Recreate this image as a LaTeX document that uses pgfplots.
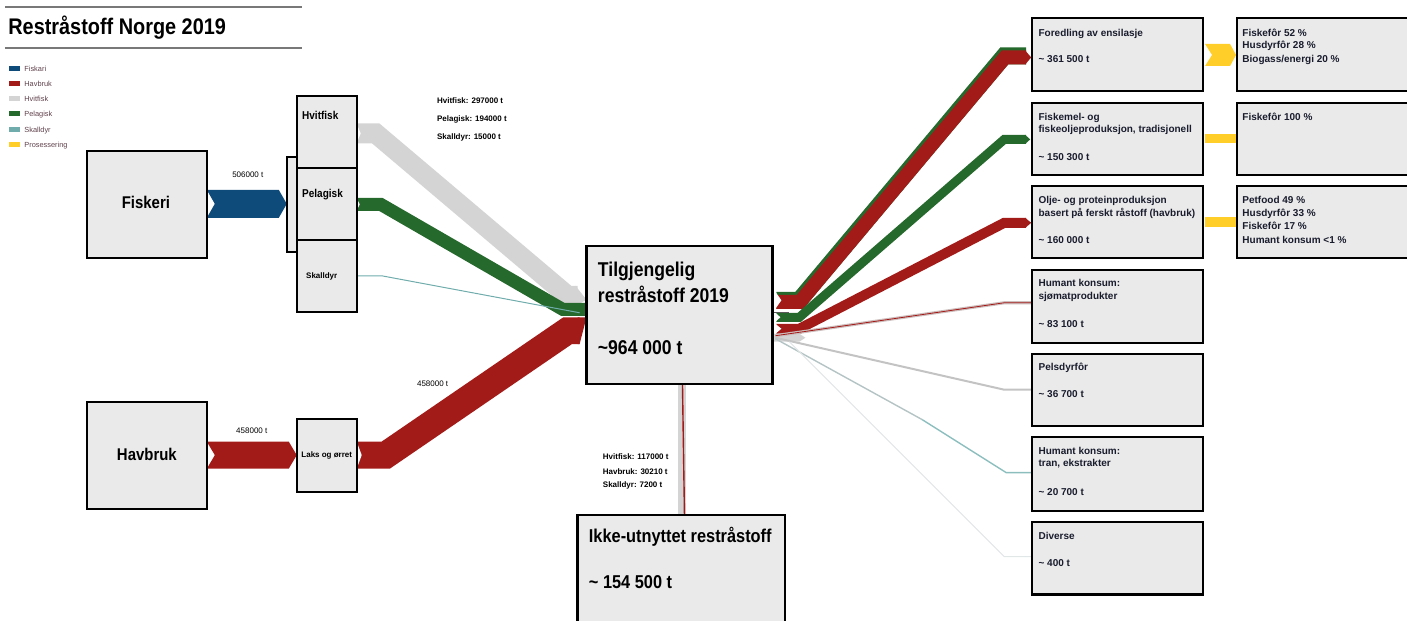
\documentclass[border=0pt]{standalone}
\usepackage{fontspec}
\setmainfont{Liberation Sans}
\newfontfamily\narrowfont{Liberation Sans}[FakeStretch=0.88]
\usepackage{pgfplots}
\pgfplotsset{compat=1.18}
\definecolor{boxgray}{RGB}{234,234,234}
\definecolor{fblue}{RGB}{14,74,122}
\definecolor{hred}{RGB}{163,27,24}
\definecolor{hgray}{RGB}{212,212,212}
\definecolor{pgreen}{RGB}{37,105,44}
\definecolor{steal}{RGB}{112,172,172}
\definecolor{pyellow}{RGB}{255,206,40}
\definecolor{txtdark}{RGB}{25,28,45}
\definecolor{legtxt}{RGB}{95,65,75}
\definecolor{rulegray}{RGB}{120,120,120}
\newcommand{\boxat}[4]{\addplot[fill=boxgray, draw=black, line width=1.1pt] coordinates {(#1,#2) (#3,#2) (#3,#4) (#1,#4)} -- cycle;}
\newcommand{\legsq}[2]{\addplot[fill=#2, draw=none] coordinates {(9,#1-2.5) (20,#1-2.5) (20,#1+2.5) (9,#1+2.5)} -- cycle;}
\newcommand{\bigf}[1]{\narrowfont\bfseries\fontsize{#1}{#1}\selectfont}
\newcommand{\smf}{\bfseries\fontsize{5}{6}\selectfont}
\newcommand{\tinyf}{\bfseries\fontsize{4}{5}\selectfont}
\begin{document}
\begin{tikzpicture}
\begin{axis}[width=704pt, height=310.5pt, scale only axis,
  xmin=0, xmax=1408, ymin=0, ymax=621, y dir=reverse,
  hide axis, clip=false,
  band/.style={line join=miter, line cap=butt}]
\addplot[draw=none] coordinates {(0,0) (1408,621)};
% title
\addplot[rulegray, line width=0.9pt] coordinates {(5,7) (302,7)};
\addplot[rulegray, line width=0.9pt] coordinates {(5,48) (302,48)};
\node[anchor=base west, inner sep=0, font=\bigf{11.3}] at (8,35) {Restråstoff Norge 2019};
% legend
\legsq{68.5}{fblue}
\legsq{83.5}{hred}
\legsq{99}{hgray}
\legsq{114}{pgreen}
\legsq{129.5}{steal}
\legsq{145}{pyellow}
\begin{scope}[every node/.style={anchor=base west, inner sep=0, text=legtxt, font=\fontsize{3.7}{4}\selectfont}]
\node at (24,71.2) {Fiskari};
\node at (24,86.2) {Havbruk};
\node at (24,101.7) {Hvitfisk};
\node at (24,116.7) {Pelagisk};
\node at (24,132.2) {Skalldyr};
\node at (24,147.7) {Prosessering};
\end{scope}
% ---- flows left
\addplot[fill=fblue, draw=none] coordinates {(207,190) (279,190) (287,204) (279,218) (207,218) (215,204)} -- cycle;
\addplot[fill=hred, draw=none] coordinates {(207,442) (289,442) (297,455.5) (289,469) (207,469) (215,455.5)} -- cycle;
\addplot[band, hgray, line width=10pt] coordinates {(357,133.5) (376,133.5) (568,296) (578,296)};
\addplot[fill=hgray, draw=none] coordinates {(576,286) (587,300) (576,306)} -- cycle;
\addplot[band, pgreen, line width=6.5pt] coordinates {(357,204.5) (381,204.5) (563,309.5) (587,309.5)};
\addplot[steal, line width=0.5pt] coordinates {(357,276) (382,276) (580,313)};
\addplot[band, hred, line width=13.5pt] coordinates {(357,455.5) (386,455.5) (568,331) (580,331)};
\addplot[fill=hred, draw=none] coordinates {(578,317.5) (587,317.5) (580,344.5) (578,344.5)} -- cycle;
\addplot[fill=white, draw=none] coordinates {(357,124) (361,133.5) (357,143)} -- cycle;
\addplot[fill=white, draw=none] coordinates {(357,198.5) (360,204.5) (357,210.5)} -- cycle;
\addplot[fill=white, draw=none] coordinates {(357,442) (362,455.5) (357,469)} -- cycle;
% bottom flow
\addplot[fill=hgray, draw=none] coordinates {(679,384) (687,384) (687,515) (679,515)} -- cycle;
\addplot[hred, line width=0.7pt] coordinates {(683,384) (685,515)};
% ---- flows right
\addplot[fill=hgray, draw=none] coordinates {(774,334) (800,334) (806,338) (800,342) (774,342)} -- cycle;
\addplot[band, pgreen, line width=8.5pt] coordinates {(777,300.5) (800,300.5) (1005,56) (1027,56)};
\addplot[band, hred, line width=7pt] coordinates {(777,302) (800.7,302) (1005.7,57.5) (1027,57.5)};
\addplot[fill=hred, draw=none] coordinates {(1026,50.5) (1032,57.5) (1026,64.5)} -- cycle;
\addplot[band, pgreen, line width=4.5pt] coordinates {(777,317.5) (800,317.5) (1005,139.5) (1027,139.5)};
\addplot[fill=pgreen, draw=none] coordinates {(1026,135) (1031,139.5) (1026,144)} -- cycle;
\addplot[band, hred, line width=5pt] coordinates {(777,329) (800,329) (1005,223) (1027,223)};
\addplot[fill=hred, draw=none] coordinates {(1026,218) (1032,223) (1026,228)} -- cycle;
\addplot[fill=white, draw=none] coordinates {(776,292) (782,300.5) (776,309)} -- cycle;
\addplot[fill=white, draw=none] coordinates {(776,313) (781,317.5) (776,322)} -- cycle;
\addplot[fill=white, draw=none] coordinates {(776,324) (782,329) (776,334)} -- cycle;
\addplot[color={rgb,255:red,205;green,190;blue,190}, line width=1.6pt] coordinates {(776,336) (1005,303) (1033,303)};
\addplot[hred, line width=0.4pt] coordinates {(776,336) (1005,303) (1033,303)};
\addplot[color={rgb,255:red,195;green,195;blue,195}, line width=1pt] coordinates {(776,338) (1005,390) (1033,390)};
\addplot[color={rgb,255:red,180;green,195;blue,195}, line width=0.7pt] coordinates {(776,339) (923,420)};
\addplot[color={rgb,255:red,140;green,190;blue,190}, line width=0.7pt] coordinates {(923,420) (1007,473) (1033,473)};
\addplot[color={rgb,255:red,225;green,230;blue,230}, line width=0.5pt] coordinates {(790,342) (1005,557) (1033,557)};
\addplot[color={rgb,255:red,90;green,90;blue,90}, line width=0.6pt] coordinates {(772,313) (790,313)};
% yellow connectors
\addplot[fill=pyellow, draw=none] coordinates {(1206,44) (1231,44) (1237,55) (1231,66) (1206,66) (1213,55)} -- cycle;
\addplot[fill=pyellow, draw=none] coordinates {(1206,134.5) (1237,134.5) (1237,143) (1206,143)} -- cycle;
\addplot[fill=pyellow, draw=none] coordinates {(1206,217) (1237,217) (1237,227) (1206,227)} -- cycle;
% ---- boxes
\boxat{87}{151}{207}{258}
\boxat{87}{402}{207}{509}
\boxat{287}{157}{297}{252}
\boxat{297}{96}{357}{168}
\boxat{297}{168}{357}{240}
\boxat{297}{240}{357}{312}
\boxat{297}{419}{357}{492}
\boxat{587}{246}{773}{384}
\addplot[fill=boxgray, draw=none] coordinates {(578,515) (786,515) (786,621) (578,621)} -- cycle;
\addplot[black, line width=1.1pt] coordinates {(578,621) (578,515) (786,515) (786,621)};
\boxat{1033}{18}{1204}{91}
\boxat{1033}{103}{1204}{175}
\boxat{1033}{186}{1204}{258}
\boxat{1033}{270}{1204}{343}
\boxat{1033}{354}{1204}{426}
\boxat{1033}{437}{1204}{511}
\boxat{1033}{522}{1204}{595}
\addplot[fill=boxgray, draw=none] coordinates {(1238,18) (1408,18) (1408,91) (1238,91)} -- cycle;
\addplot[black, line width=1.1pt] coordinates {(1408,18) (1238,18) (1238,91) (1408,91)};
\addplot[fill=boxgray, draw=none] coordinates {(1238,103) (1408,103) (1408,175) (1238,175)} -- cycle;
\addplot[black, line width=1.1pt] coordinates {(1408,103) (1238,103) (1238,175) (1408,175)};
\addplot[fill=boxgray, draw=none] coordinates {(1238,186) (1408,186) (1408,258) (1238,258)} -- cycle;
\addplot[black, line width=1.1pt] coordinates {(1408,186) (1238,186) (1238,258) (1408,258)};
% ---- texts
\begin{scope}[every node/.style={inner sep=0}]
\node[anchor=base, font=\bigf{8.5}] at (146,209) {Fiskeri};
\node[anchor=base, font=\bigf{8.5}] at (147,461) {Havbruk};
\node[anchor=base west, font=\bigf{5.7}] at (302,120) {Hvitfisk};
\node[anchor=base west, font=\bigf{5.7}] at (302,198) {Pelagisk};
\node[anchor=base, font=\bfseries\fontsize{4}{5}\selectfont] at (322,279) {Skalldyr};
\node[anchor=base, font=\bfseries\fontsize{4}{5}\selectfont] at (327,458) {Laks og ørret};
\node[anchor=base, font=\fontsize{4}{5}\selectfont] at (248,178) {506000 t};
\node[anchor=base, font=\fontsize{4}{5}\selectfont] at (252,434) {458000 t};
\node[anchor=base, font=\fontsize{4}{5}\selectfont] at (433,387) {458000 t};
\node[anchor=base west, font=\tinyf] at (437,104) {Hvitfisk: 297000 t};
\node[anchor=base west, font=\tinyf] at (437,122) {Pelagisk: 194000 t};
\node[anchor=base west, font=\tinyf] at (437,140) {Skalldyr: 15000 t};
\node[anchor=base west, font=\bigf{10}] at (598,277) {Tilgjengelig};
\node[anchor=base west, font=\bigf{10}] at (598,303) {restråstoff 2019};
\node[anchor=base west, font=\bigf{10}] at (598,355) {\textasciitilde964 000 t};
\node[anchor=base west, font=\tinyf] at (603,460) {Hvitfisk: 117000 t};
\node[anchor=base west, font=\tinyf] at (603,475) {Havbruk: 30210 t};
\node[anchor=base west, font=\tinyf] at (603,488) {Skalldyr: 7200 t};
\node[anchor=base west, font=\bigf{9.3}] at (589,543) {Ikke-utnyttet restråstoff};
\node[anchor=base west, font=\bigf{9.3}] at (589,589) {\textasciitilde{} 154 500 t};
\end{scope}
\begin{scope}[every node/.style={inner sep=0, anchor=base west, text=txtdark, font=\smf}]
\node at (1039,36.5) {Foredling av ensilasje};
\node at (1039,62.5) {\textasciitilde{} 361 500 t};
\node at (1039,120.5) {Fiskemel- og};
\node at (1039,133) {fiskeoljeproduksjon, tradisjonell};
\node at (1039,160.5) {\textasciitilde{} 150 300 t};
\node at (1039,204) {Olje- og proteinproduksjon};
\node at (1039,217) {basert på ferskt råstoff (havbruk)};
\node at (1039,244) {\textasciitilde{} 160 000 t};
\node at (1039,287) {Humant konsum:};
\node at (1039,300) {sjømatprodukter};
\node at (1039,328) {\textasciitilde{} 83 100 t};
\node at (1039,371) {Pelsdyrfôr};
\node at (1039,398) {\textasciitilde{} 36 700 t};
\node at (1039,454.5) {Humant konsum:};
\node at (1039,467) {tran, ekstrakter};
\node at (1039,495.5) {\textasciitilde{} 20 700 t};
\node at (1039,539.5) {Diverse};
\node at (1039,566.5) {\textasciitilde{} 400 t};
\node at (1243,36.5) {Fiskefôr 52 \%};
\node at (1243,49) {Husdyrfôr 28 \%};
\node at (1243,62.5) {Biogass/energi 20 \%};
\node at (1243,120.5) {Fiskefôr 100 \%};
\node at (1243,204) {Petfood 49 \%};
\node at (1243,216.5) {Husdyrfôr 33 \%};
\node at (1243,229.5) {Fiskefôr 17 \%};
\node at (1243,243.5) {Humant konsum <1 \%};
\end{scope}
\end{axis}
\end{tikzpicture}
\end{document}
